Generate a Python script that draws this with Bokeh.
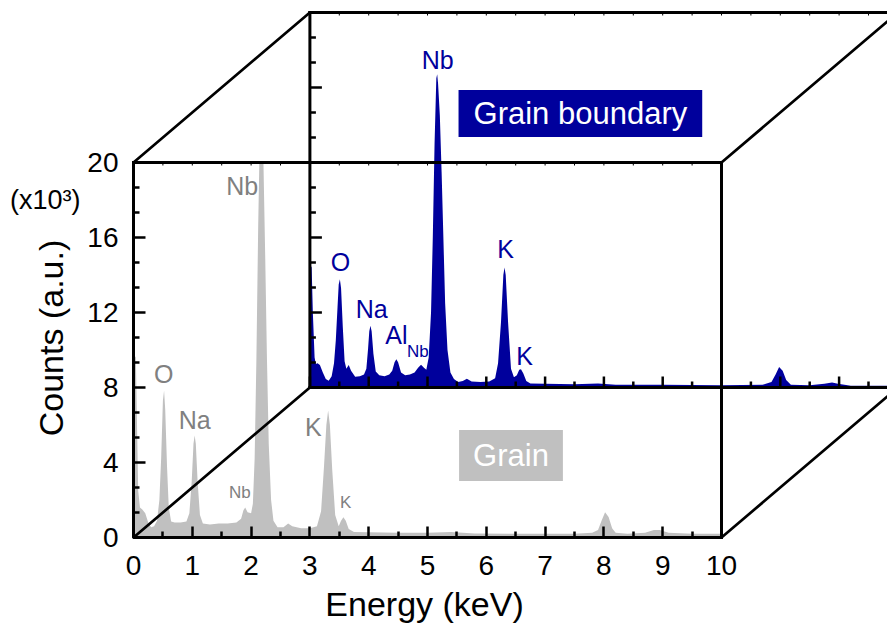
import math
from bokeh.plotting import figure
from bokeh.models import Range1d, LinearAxis, FixedTicker, Label
from bokeh.embed import file_html
from bokeh.resources import INLINE

# ---------------- data (counts in units of 10^3) ----------------
grain_energy = [0.00, 0.04, 0.06, 0.08, 0.11, 0.15, 0.20, 0.25, 0.30, 0.35, 0.40,
                0.44, 0.47, 0.50, 0.52, 0.54, 0.57, 0.60, 0.64, 0.70, 0.80, 0.90,
                0.95, 0.99, 1.02, 1.04, 1.06, 1.09, 1.13, 1.18, 1.30, 1.45, 1.60,
                1.75, 1.83, 1.87, 1.90, 1.94, 2.00, 2.03, 2.06, 2.09, 2.12, 2.14,
                2.21, 2.24, 2.27, 2.30, 2.34, 2.38, 2.45, 2.55, 2.63, 2.70, 2.85,
                3.00, 3.12, 3.19, 3.24, 3.28, 3.31, 3.34, 3.38, 3.43, 3.49, 3.53,
                3.57, 3.61, 3.66, 3.75, 4.00, 4.50, 5.00, 5.40, 5.80, 6.50, 7.00,
                7.50, 7.80, 7.90, 7.96, 8.02, 8.08, 8.14, 8.20, 8.40, 8.70, 8.85,
                8.95, 9.10, 9.50, 10.00]
grain_counts = [9.8, 9.6, 6.0, 2.5, 1.6, 1.5, 1.3, 0.8, 0.55, 0.6, 0.9,
                2.0, 4.2, 7.3, 7.84, 6.8, 3.8, 1.6, 0.85, 0.8, 0.8, 0.85,
                1.3, 3.0, 5.0, 5.44, 5.0, 3.0, 1.2, 0.75, 0.7, 0.75, 0.75,
                0.8, 1.0, 1.45, 1.6, 1.35, 1.3, 1.8, 4.2, 9.5, 16.5, 20.0,
                20.0, 15.0, 9.5, 5.0, 2.0, 0.9, 0.55, 0.55, 0.75, 0.6, 0.5,
                0.5, 0.6, 1.4, 3.8, 6.0, 6.77, 6.0, 3.6, 1.2, 0.6, 0.9,
                1.08, 0.9, 0.45, 0.3, 0.28, 0.25, 0.25, 0.3, 0.22, 0.2, 0.2,
                0.2, 0.25, 0.4, 0.9, 1.35, 1.1, 0.5, 0.25, 0.2, 0.25, 0.4,
                0.4, 0.25, 0.2, 0.2]

boundary_energy = [0.00, 0.03, 0.05, 0.08, 0.10, 0.13, 0.17, 0.22, 0.27, 0.32, 0.37, 0.41,
                   0.44, 0.47, 0.49, 0.51, 0.53, 0.56, 0.59, 0.62, 0.66, 0.70, 0.77,
                   0.85, 0.92, 0.96, 0.99, 1.01, 1.03, 1.05, 1.08, 1.12, 1.18, 1.27,
                   1.35, 1.40, 1.44, 1.47, 1.50, 1.55, 1.62, 1.70, 1.78, 1.84, 1.89,
                   1.94, 1.98, 2.02, 2.06, 2.09, 2.12, 2.15, 2.165, 2.18, 2.21, 2.24,
                   2.27, 2.30, 2.34, 2.39, 2.45, 2.52, 2.60, 2.67, 2.75, 2.90, 3.05,
                   3.15, 3.20, 3.25, 3.29, 3.31, 3.33, 3.37, 3.42, 3.47, 3.52, 3.56,
                   3.59, 3.63, 3.68, 3.75, 4.00, 4.50, 4.90, 5.20, 6.00, 7.00, 7.70,
                   7.85, 7.92, 7.98, 8.04, 8.10, 8.18, 8.50, 8.75, 8.88, 8.98, 9.20,
                   10.00]
boundary_counts = [6.6, 6.4, 4.0, 1.6, 1.25, 1.3, 1.2, 0.8, 0.45, 0.36, 0.6, 1.3,
                   2.5, 4.3, 5.5, 5.78, 5.3, 3.2, 1.4, 1.0, 1.2, 0.9, 0.57,
                   0.6, 0.7, 1.0, 2.1, 3.0, 3.29, 3.0, 1.8, 0.85, 0.65, 0.6,
                   0.7, 0.9, 1.35, 1.51, 1.35, 0.8, 0.65, 0.7, 0.8, 1.05, 1.21,
                   1.05, 0.95, 1.6, 4.0, 8.0, 13.0, 16.5, 16.71, 16.2, 14.5, 11.5,
                   8.0, 4.5, 2.0, 0.8, 0.45, 0.3, 0.35, 0.47, 0.32, 0.3, 0.32,
                   0.5, 1.3, 3.5, 6.0, 6.4, 6.0, 3.5, 1.0, 0.55, 0.65, 0.95,
                   0.98, 0.75, 0.35, 0.22, 0.2, 0.18, 0.22, 0.15, 0.15, 0.12, 0.15,
                   0.3, 0.7, 1.1, 0.9, 0.4, 0.15, 0.12, 0.2, 0.27, 0.2, 0.1,
                   0.1]

x_ticks = [0, 1, 2, 3, 4, 5, 6, 7, 8, 9, 10]
x_minor = [0.5, 1.5, 2.5, 3.5, 4.5, 5.5, 6.5, 7.5, 8.5, 9.5]
y_ticks = [0, 4, 8, 12, 16, 20]
y_minor = [1.333, 2.667, 5.333, 6.667, 9.333, 10.667, 13.333, 14.667, 17.333, 18.667]

x_title = "Energy (keV)"
y_title = "Counts (a.u.)"
y_multiplier = "(x10³)"

grain_label_text = ["O", "Na", "Nb", "Nb", "K", "K"]
grain_label_x = [0.515, 1.04, 1.85, 1.81, 3.06, 3.61]
grain_label_y = [8.72, 6.28, 18.77, 2.42, 5.88, 1.88]
grain_label_size = ["25px", "25px", "25px", "17px", "25px", "17px"]

boundary_label_text = ["O", "Na", "Al", "Nb", "Nb", "K", "K"]
boundary_label_x = [0.52, 1.05, 1.47, 1.835, 2.175, 3.33, 3.65]
boundary_label_y = [6.72, 4.21, 2.81, 1.92, 17.48, 7.38, 1.69]
boundary_label_size = ["25px", "25px", "25px", "17px", "25px", "25px", "25px"]

# ---------------- style / layout ----------------
FONT = "Liberation Sans"
GRAY_FILL = "#C0C0C0"
GRAY_TEXT = "#808080"
BLUE = "#00009C"
PX_PER_KEV = 58.8
PX_PER_UNIT = 18.75
W, H = 887, 625                  # whole canvas is the plotting frame
ORIGIN_X, ORIGIN_Y = 133, 537    # pixel position of (0, 0) of the front panel
DX, DY = 3.0, 8.0                # offset of the rear panel (front data units)

x_lo = -ORIGIN_X / PX_PER_KEV
x_hi = (W - ORIGIN_X) / PX_PER_KEV
y_hi = ORIGIN_Y / PX_PER_UNIT
y_lo = -(H - ORIGIN_Y) / PX_PER_UNIT

p = figure(frame_width=W, frame_height=H, min_border=0,
           x_range=Range1d(x_lo, x_hi), y_range=Range1d(y_lo, y_hi),
           x_axis_type=None, y_axis_type=None,
           output_backend="svg", toolbar_location=None)
p.min_border_left = 0
p.min_border_right = 0
p.min_border_top = 0
p.min_border_bottom = 0
p.outline_line_color = None
p.background_fill_color = "white"
p.border_fill_color = "white"
p.extra_x_ranges = {"bx": Range1d(x_lo - DX, x_hi - DX)}
p.extra_y_ranges = {"by": Range1d(y_lo - DY, y_hi - DY)}
rear = dict(x_range_name="bx", y_range_name="by")

# spectra
p.varea(x=grain_energy, y1=0, y2=grain_counts, fill_color=GRAY_FILL)
p.varea(x=boundary_energy, y1=0, y2=boundary_counts, fill_color=BLUE, **rear)

xe, ye = x_ticks[-1], y_ticks[-1]


def hticks(ys, x0, length_px, width, **kw):
    dx = length_px / PX_PER_KEV
    p.segment(x0=[x0] * len(ys), y0=ys, x1=[x0 + dx] * len(ys), y1=ys,
              line_color="black", line_width=width, **kw)


def vticks(xs, y0, length_px, width, **kw):
    dy = length_px / PX_PER_UNIT
    p.segment(x0=xs, y0=[y0] * len(xs), x1=xs, y1=[y0 + dy] * len(xs),
              line_color="black", line_width=width, **kw)


# rear panel: left axis, bottom axis, top edge (inward ticks, no labels)
p.segment(x0=[0, 0, 0], y0=[0, 0, ye], x1=[0, xe, xe], y1=[ye, 0, ye],
          line_color="black", line_width=3, line_cap="square", **rear)
hticks(y_ticks, 0, 12, 2.5, **rear)
hticks(y_minor, 0, 6, 2.5, **rear)
vticks(x_ticks, 0, 11, 2.5, **rear)
vticks(x_minor, 0, 6, 2.5, **rear)
vticks(x_ticks + x_minor, ye, -3, 1, **rear)

# front panel: top edge, right edge, small ticks on the top edge
p.segment(x0=[0, xe], y0=[ye, 0], x1=[xe, xe], y1=[ye, ye],
          line_color="black", line_width=3, line_cap="square")
vticks(x_ticks + x_minor, ye, -3, 1)

# perspective lines joining the corners
x0s = [0, xe, 0, xe]
y0s = [ye, ye, 0, 0]
p.segment(x0=x0s, y0=y0s, x1=[v + DX for v in x0s], y1=[v + DY for v in y0s],
          line_color="black", line_width=2.7, line_cap="round")


def style(ax, tin, tmin):
    ax.axis_line_width = 3
    ax.axis_line_color = "black"
    ax.major_tick_in = tin
    ax.major_tick_out = 0
    ax.minor_tick_in = tmin
    ax.minor_tick_out = 0
    ax.major_tick_line_width = 2.5
    ax.minor_tick_line_width = 2.5
    ax.major_tick_line_color = "black"
    ax.minor_tick_line_color = "black"
    ax.major_label_text_font = FONT
    ax.major_label_text_font_size = "28px"
    ax.major_label_text_color = "black"


# front axes (labelled), drawn at the front panel's origin
yax = LinearAxis(bounds=(0, ye), fixed_location=0,
                 ticker=FixedTicker(ticks=y_ticks, minor_ticks=y_minor))
style(yax, 12, 6)
yax.major_label_standoff = 15
p.add_layout(yax, "left")

xax = LinearAxis(bounds=(0, xe), fixed_location=0,
                 ticker=FixedTicker(ticks=x_ticks, minor_ticks=x_minor))
style(xax, 11, 6)
xax.major_label_standoff = 18
p.add_layout(xax, "below")

# peak labels
for t, x, y, s in zip(grain_label_text, grain_label_x, grain_label_y, grain_label_size):
    p.add_layout(Label(x=x, y=y, text=t, text_color=GRAY_TEXT, text_font=FONT,
                       text_font_size=s, text_align="center", text_baseline="middle"))
for t, x, y, s in zip(boundary_label_text, boundary_label_x, boundary_label_y, boundary_label_size):
    p.add_layout(Label(x=x, y=y, text=t, text_color=BLUE, text_font=FONT,
                       text_font_size=s, text_align="center", text_baseline="middle", **rear))

# legend-like boxes
p.add_layout(Label(x=4.60, y=14.61, text="Grain boundary", text_color="white", text_font=FONT,
                   text_font_size="31px", text_align="center", text_baseline="middle",
                   background_fill_color=BLUE, padding=(15, 6), **rear))
p.add_layout(Label(x=6.42, y=4.38, text="Grain", text_color="white", text_font=FONT,
                   text_font_size="31px", text_align="center", text_baseline="middle",
                   background_fill_color=GRAY_FILL, padding=(14, 8)))

# axis titles and multiplier (centred on the front panel's axes)
p.add_layout(Label(x=xe / 2 - 0.05, y=-3.55, text=x_title, text_color="black", text_font=FONT,
                   text_font_size="34px", text_align="center", text_baseline="middle"))
p.add_layout(Label(x=-1.41, y=ye / 2 + 0.64, text=y_title, text_color="black", text_font=FONT,
                   text_font_size="34px", text_align="center", text_baseline="middle",
                   angle=math.pi / 2))
p.add_layout(Label(x=-1.50, y=18.02, text=y_multiplier, text_color="black", text_font=FONT,
                   text_font_size="27px", text_align="center", text_baseline="middle"))

open("out.html", "w").write(file_html(p, INLINE))
